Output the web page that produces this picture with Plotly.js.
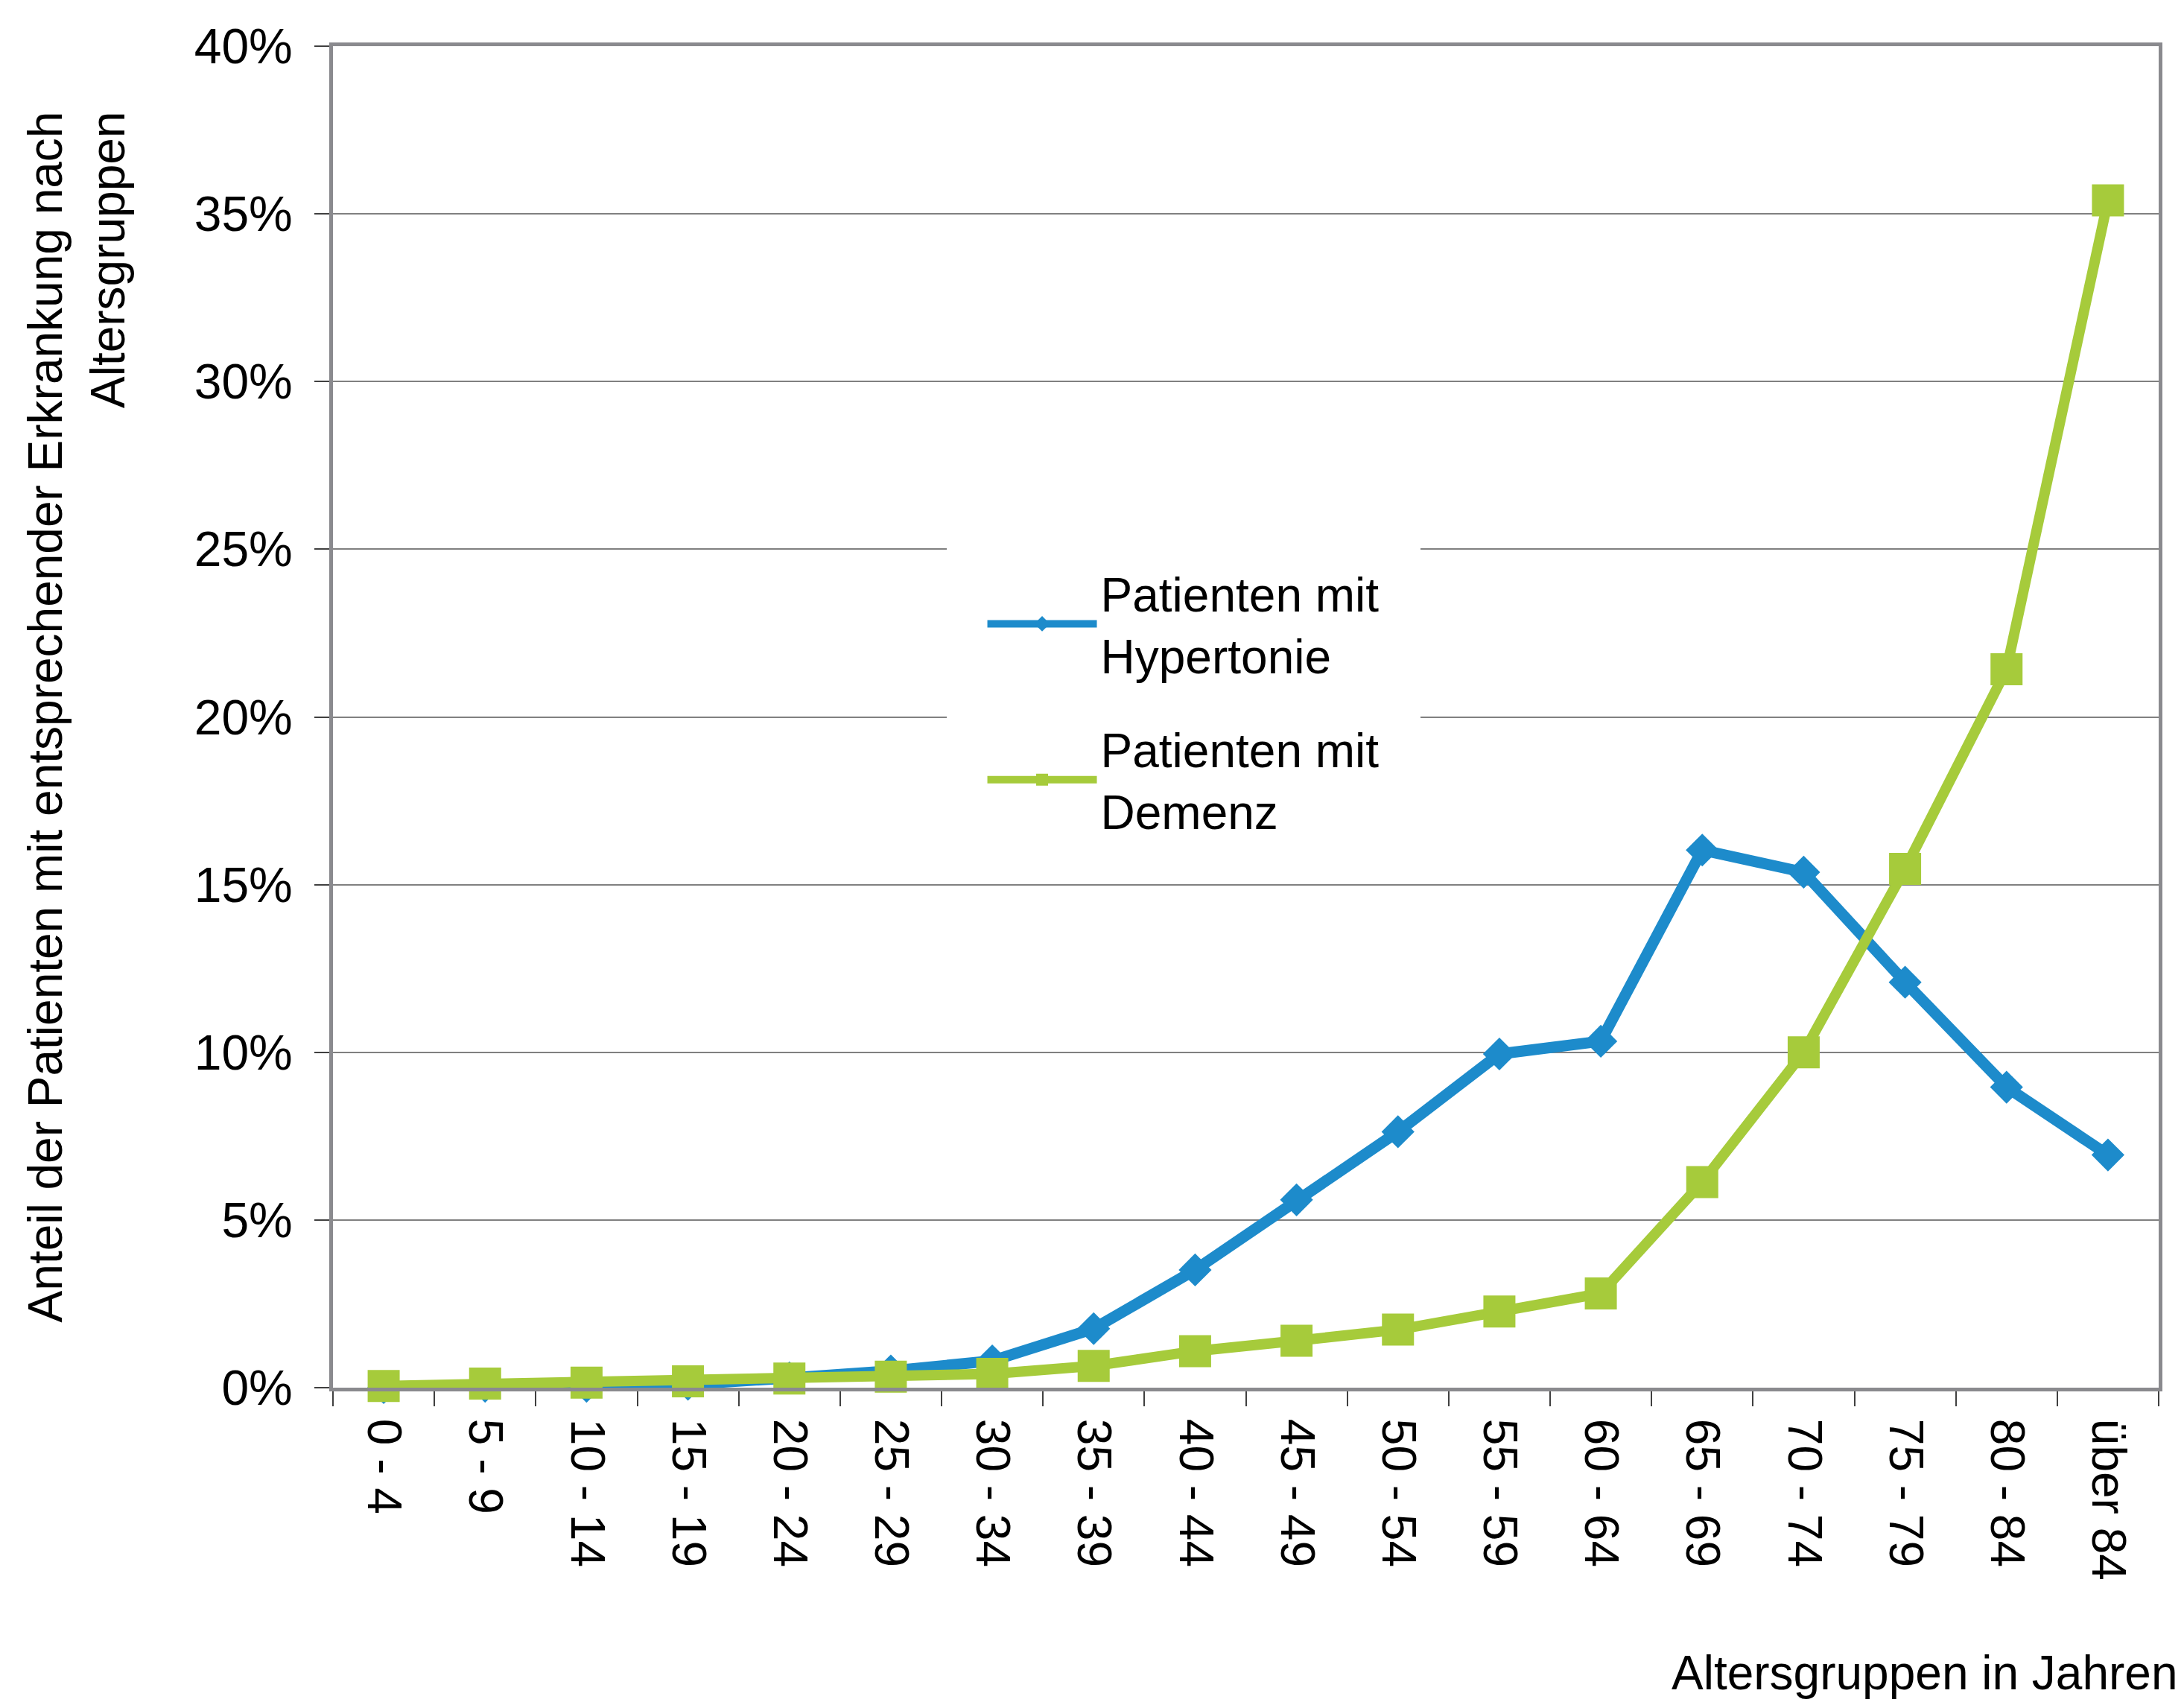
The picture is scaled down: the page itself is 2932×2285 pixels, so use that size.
<!DOCTYPE html>
<html>
<head>
<meta charset="utf-8">
<script src="https://cdn.plot.ly/plotly-3.0.1.min.js"></script>
<style>
html, body { margin: 0; padding: 0; background: #ffffff; }
#chart { width: 2932px; height: 2285px; }
</style>
</head>
<body>
<div id="chart"></div>
<script>
// Age groups (categories)
const ageGroups = ['0 - 4', '5 - 9', '10 - 14', '15 - 19', '20 - 24', '25 - 29', '30 - 34', '35 - 39',
  '40 - 44', '45 - 49', '50 - 54', '55 - 59', '60 - 64', '65 - 69', '70 - 74', '75 - 79', '80 - 84', 'über 84'];

// Share of patients (%) per age group
const hypertonie = [0.0, 0.04, 0.04, 0.1, 0.29, 0.5, 0.8, 1.76, 3.51, 5.6, 7.63, 9.95, 10.33, 16.03, 15.37, 12.09, 8.96, 6.94];
const demenz = [0.05, 0.12, 0.15, 0.19, 0.27, 0.33, 0.41, 0.65, 1.09, 1.4, 1.73, 2.27, 2.81, 6.13, 10.0, 15.47, 21.42, 35.4];

// Y tick values / labels
const yTickValues = [0, 5, 10, 15, 20, 25, 30, 35, 40];
const yTickLabels = ['0%', '5%', '10%', '15%', '20%', '25%', '30%', '35%', '40%'];

const seriesNames = ['Patienten mit<br>Hypertonie', 'Patienten mit<br>Demenz'];

const FONT = 'Liberation Sans, Arial, Helvetica, sans-serif';
const BLUE = '#1d8bcb';
const GREEN = '#a6cb3b';

const traces = [
  {
    type: 'scatter', mode: 'lines+markers',
    x: ageGroups, y: hypertonie, name: seriesNames[0], legendgroup: 'h',
    line: { color: BLUE, width: 15 },
    marker: { symbol: 'diamond', size: 34, color: BLUE },
    cliponaxis: false
  },
  {
    type: 'scatter', mode: 'lines+markers',
    x: ageGroups, y: demenz, name: seriesNames[1], legendgroup: 'd',
    line: { color: GREEN, width: 14 },
    marker: { symbol: 'square', size: 43, color: GREEN },
    cliponaxis: false
  }
];

const layout = {
  width: 2932, height: 2285,
  paper_bgcolor: '#ffffff', plot_bgcolor: '#ffffff',
  margin: { l: 447, r: 34, t: 62, b: 422 },
  font: { family: FONT, size: 64, color: '#000000' },
  showlegend: true,
  legend: {
    x: 0.336, y: 0.647, xanchor: 'left', yanchor: 'top',
    bgcolor: '#ffffff', bordercolor: '#ffffff', borderwidth: 50,
    itemwidth: 147,
    font: { family: FONT, size: 64, color: '#000000' },
    tracegroupgap: 40
  },
  xaxis: {
    type: 'category', range: [-0.5, 17.5],
    tickson: 'boundaries', ticks: 'outside', ticklen: 20, tickwidth: 2, tickcolor: '#404040',
    tickangle: 90, tickfont: { family: FONT, size: 64, color: '#000000' },
    ticklabelstandoff: 24,
    showline: true, linecolor: '#8a8a8e', linewidth: 5, mirror: true,
    showgrid: false, zeroline: false
  },
  yaxis: {
    range: [0, 40], tickvals: yTickValues, ticktext: yTickLabels,
    ticks: 'outside', ticklen: 20, tickwidth: 2, tickcolor: '#404040',
    tickfont: { family: FONT, size: 66, color: '#000000' },
    ticklabelstandoff: 16,
    showline: true, linecolor: '#8a8a8e', linewidth: 5, mirror: true,
    showgrid: true, gridcolor: '#808080', gridwidth: 2, zeroline: false
  },
  annotations: [
    {
      text: 'Anteil der Patienten mit entsprechender Erkrankung nach<br>Altersgruppen',
      xref: 'paper', yref: 'paper', x: -0.1404, y: 0.5,
      xanchor: 'center', yanchor: 'middle', textangle: -90, align: 'right', showarrow: false,
      font: { family: FONT, size: 64, color: '#000000' }
    },
    {
      text: 'Altersgruppen in Jahren',
      xref: 'paper', yref: 'paper', x: 1.0114, y: -0.2127,
      xanchor: 'right', yanchor: 'middle', showarrow: false,
      font: { family: FONT, size: 64, color: '#000000' }
    }
  ]
};

Plotly.newPlot('chart', traces, layout, { displayModeBar: false, staticPlot: true });
</script>
</body>
</html>
